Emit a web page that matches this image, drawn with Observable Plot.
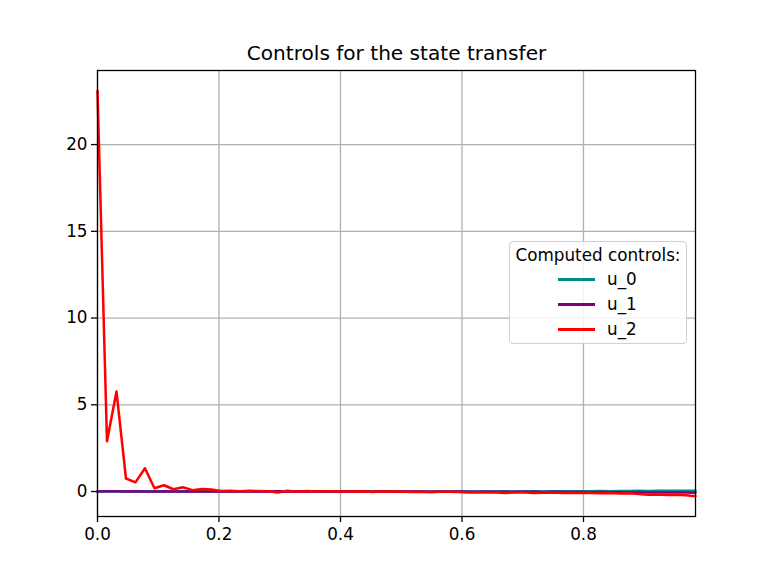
<!DOCTYPE html>
<html>
<head>
<meta charset="utf-8">
<script src="https://cdn.jsdelivr.net/npm/d3@7"></script>
<script src="https://cdn.jsdelivr.net/npm/@observablehq/plot@0.6"></script>
<style>
  html, body { margin: 0; padding: 0; background: #fff; }
  #wrap { position: relative; width: 773px; height: 580px; font-family: "DejaVu Sans", sans-serif; }
  #legend {
    position: absolute; left: 509px; top: 241px; width: 178px; height: 103px;
    border: 1px solid #d0d0d0; border-radius: 4px; background: rgba(255,255,255,0.85);
    box-sizing: border-box; font-size: 16.8px; color: #000; line-height: 20px;
  }
  #legend .title { position: absolute; left: 0; width: 100%; top: 3px; text-align: center; }
  #legend .row { position: absolute; left: 48px; height: 20px; display: flex; align-items: center; }
  #legend .sw { width: 37px; height: 3px; margin-right: 12px; }
</style>
</head>
<body>
<div id="wrap"></div>
<script>
// Time grid: 64 samples, step 1/64
const t = d3.range(64).map(i => i / 64);

const seriesNames = ["u_0", "u_1", "u_2"];
const seriesColors = ["darkcyan", "purple", "red"];

const u0 = [0.00,0.01,0.00,0.01,0.00,0.00,0.01,0.00,0.00,0.01,
  0.00,0.00,0.01,0.00,0.00,0.00,0.01,0.00,0.00,0.00,
  0.00,0.01,0.00,0.00,0.00,0.01,0.00,0.00,0.00,0.00,
  0.01,0.00,0.00,0.00,0.01,0.00,0.00,0.00,0.01,0.00,
  0.00,0.01,0.00,0.01,0.00,0.01,0.01,0.00,0.01,0.02,
  0.01,0.02,0.02,0.03,0.02,0.03,0.03,0.04,0.03,0.04,
  0.04,0.05,0.04,0.05];

const u1 = [0.00,0.02,0.01,0.00,0.01,0.00,0.00,0.01,0.00,0.00,
  0.01,0.00,0.00,0.00,0.01,0.00,0.00,0.00,0.00,0.01,
  0.00,0.00,0.00,0.00,0.01,0.00,0.00,0.00,0.00,0.00,
  0.00,0.00,-0.01,0.00,0.00,-0.01,0.00,-0.01,0.00,-0.01,
  -0.01,-0.01,-0.02,-0.01,-0.02,-0.02,-0.02,-0.03,-0.02,-0.03,
  -0.03,-0.03,-0.04,-0.03,-0.04,-0.04,-0.05,-0.04,-0.05,-0.05,
  -0.06,-0.05,-0.06,-0.07];

const u2 = [23.1,2.9,5.76,0.75,0.53,1.34,0.19,0.36,0.13,0.25,
  0.08,0.15,0.12,0.03,0.05,0.02,0.04,0.03,0.01,-0.06,
  0.04,-0.02,0.03,0.00,0.02,0.01,0.00,-0.02,0.01,-0.03,
  0.02,-0.01,0.00,-0.03,-0.02,-0.04,-0.01,-0.02,-0.03,-0.05,
  -0.04,-0.06,-0.05,-0.08,-0.06,-0.05,-0.09,-0.07,-0.06,-0.08,
  -0.07,-0.09,-0.08,-0.10,-0.09,-0.12,-0.10,-0.15,-0.18,-0.17,
  -0.20,-0.19,-0.22,-0.27];

const xTicks = [0, 0.2, 0.4, 0.6, 0.8];
const yTicks = [0, 5, 10, 15, 20];
const titleText = "Controls for the state transfer";
const legendTitle = "Computed controls:";

const allSeries = [u0, u1, u2];
const rows = [];
allSeries.forEach((vals, s) => vals.forEach((v, i) => rows.push({t: t[i], v, s: seriesNames[s]})));

const chart = Plot.plot({
  width: 773,
  height: 580,
  marginLeft: 97,
  marginRight: 78,
  marginTop: 70,
  marginBottom: 64,
  style: {fontFamily: "DejaVu Sans, sans-serif", fontSize: "16.8px", color: "#000", background: "#fff"},
  x: {domain: [0, 63 / 64], label: null},
  y: {domain: [-1.44, 24.27], label: null},
  color: {domain: seriesNames, range: seriesColors},
  marks: [
    Plot.gridX(xTicks, {stroke: "#b0b0b0", strokeOpacity: 1, strokeWidth: 1.3}),
    Plot.gridY(yTicks, {stroke: "#b0b0b0", strokeOpacity: 1, strokeWidth: 1.3}),
    Plot.line(rows, {x: "t", y: "v", z: "s", stroke: "s", strokeWidth: 2.5, strokeLinejoin: "round"}),
    Plot.frame({stroke: "#000", strokeWidth: 1.3}),
    Plot.axisX(xTicks, {tickSize: 6, tickPadding: 6, tickFormat: d3.format(".1f"), fontSize: 16.8, stroke: "#000", strokeWidth: 1.3, label: null}),
    Plot.axisY(yTicks, {tickSize: 6, tickPadding: 4, tickFormat: d => String(d), fontSize: 16.8, stroke: "#000", strokeWidth: 1.3, label: null}),
    Plot.text([titleText], {frameAnchor: "top", dy: -17, lineAnchor: "middle", fontSize: 20.1, fill: "#000"})
  ]
});

const wrap = document.getElementById("wrap");
wrap.appendChild(chart);

// Legend
const leg = document.createElement("div");
leg.id = "legend";
const lt = document.createElement("div");
lt.className = "title";
lt.textContent = legendTitle;
leg.appendChild(lt);
const rowTops = [27, 52, 77];
seriesNames.forEach((name, i) => {
  const r = document.createElement("div");
  r.className = "row";
  r.style.top = rowTops[i] + "px";
  const sw = document.createElement("div");
  sw.className = "sw";
  sw.style.background = seriesColors[i];
  const lb = document.createElement("span");
  lb.textContent = name;
  r.appendChild(sw);
  r.appendChild(lb);
  leg.appendChild(r);
});
wrap.appendChild(leg);
</script>
</body>
</html>
